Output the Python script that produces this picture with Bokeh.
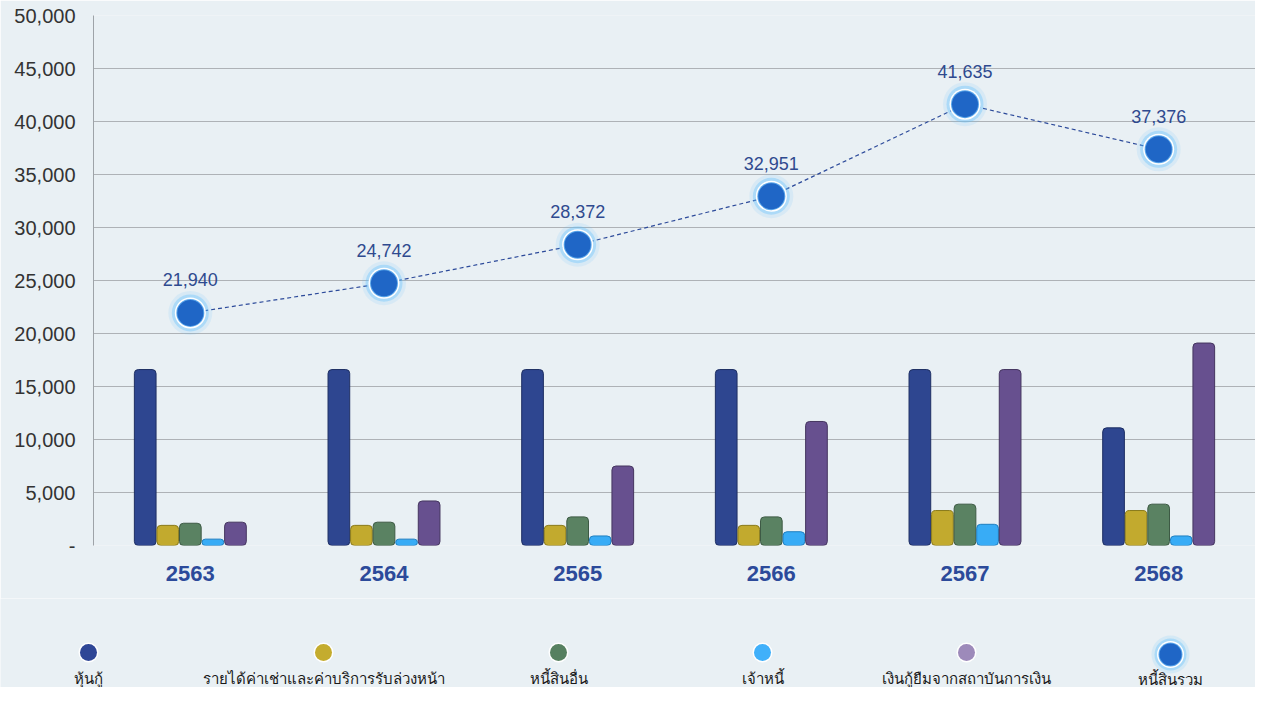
from bokeh.plotting import figure
from bokeh.layouts import column, row
from bokeh.models import ColumnDataSource, Range1d, FactorRange, NumeralTickFormatter, FixedTicker
from bokeh.transform import dodge
from bokeh.core.properties import value
from bokeh.embed import file_html
from bokeh.resources import INLINE

years = ["2563", "2564", "2565", "2566", "2567", "2568"]
debentures = [16600, 16600, 16600, 16600, 16600, 11100]
advance_rent = [1900, 1900, 1900, 1900, 3300, 3300]
other_liab = [2100, 2200, 2700, 2700, 3900, 3900]
creditors = [600, 600, 900, 1300, 2000, 900]
bank_loans = [2200, 4200, 7500, 11700, 16600, 19100]
total_liab = [21940, 24742, 28372, 32951, 41635, 37376]
total_labels = ["21,940", "24,742", "28,372", "32,951", "41,635", "37,376"]

series_names = ["หุ้นกู้", "รายได้ค่าเช่าและค่าบริการรับล่วงหน้า", "หนี้สินอื่น", "เจ้าหนี้",
                "เงินกู้ยืมจากสถาบันการเงิน", "หนี้สินรวม"]
bar_colors = ["#2e4690", "#c2aa2e", "#5a8262", "#38acf6", "#67508f"]
bar_edges = ["#1e2f63", "#8a7a1c", "#3d5a44", "#1f7fc0", "#45355f"]
legend_colors = ["#2e4696", "#c4ac2e", "#568060", "#40b0fa", "#9d8aba"]

BG = "#e9f0f4"
FONT = "Liberation Sans"

src = ColumnDataSource(dict(year=years, s0=debentures, s1=advance_rent, s2=other_liab,
                            s3=creditors, s4=bank_loans, total=total_liab, lab=total_labels))

W = 1255
p = figure(x_range=FactorRange(*years), y_range=Range1d(0, 50000),
           width=W, height=598, output_backend="svg", toolbar_location=None,
           min_border_left=93, min_border_right=0, min_border_top=15, min_border_bottom=53)
p.background_fill_color = BG
p.border_fill_color = BG
p.outline_line_color = None

pitch = 0.1165
offsets = [-2 * pitch, -pitch, 0, pitch, 2 * pitch]
for i, key in enumerate(["s0", "s1", "s2", "s3", "s4"]):
    p.vbar(x=dodge("year", offsets[i], range=p.x_range), top=key, bottom=0, width=0.112,
           source=src, fill_color=bar_colors[i], line_color=bar_edges[i], line_width=1,
           border_radius=4)

p.line(x="year", y="total", source=src, line_color="#2c4a9a", line_width=1.2, line_dash="4 3")
p.scatter(x="year", y="total", source=src, size=44, fill_color="#5cc0ff", fill_alpha=0.12, line_color=None)
p.scatter(x="year", y="total", source=src, size=37, fill_color="#5cc0ff", fill_alpha=0.35, line_color=None)
p.scatter(x="year", y="total", source=src, size=31, fill_color="#ffffff", line_color=None)
p.scatter(x="year", y="total", source=src, size=28, fill_color="#5aa6ea", line_color=None)
p.scatter(x="year", y="total", source=src, size=26, fill_color="#1f66c6", line_color=None)
p.text(x="year", y="total", text="lab", source=src, y_offset=-33, text_align="center",
       text_baseline="middle", text_font=value(FONT), text_font_size="18px", text_color="#2f4a8f")

ticks = list(range(0, 50001, 5000))
p.ygrid.ticker = FixedTicker(ticks=ticks)
p.ygrid.grid_line_color = "#aeb2b6"
p.ygrid.grid_line_width = 1
p.xgrid.grid_line_color = None

p.yaxis.ticker = FixedTicker(ticks=ticks)
p.yaxis.formatter = NumeralTickFormatter(format="0,0")
p.yaxis.major_label_overrides = {0: "-"}
p.yaxis.axis_line_color = "#9ea3a8"
p.yaxis.major_tick_line_color = None
p.yaxis.minor_tick_line_color = None
p.yaxis.major_label_standoff = 12
p.yaxis.major_label_text_font = FONT
p.yaxis.major_label_text_font_size = "20px"
p.yaxis.major_label_text_color = "#333333"

p.xaxis.axis_line_color = None
p.xaxis.major_tick_line_color = None
p.xaxis.minor_tick_line_color = None
p.xaxis.major_label_standoff = 14
p.xaxis.major_label_text_font = FONT
p.xaxis.major_label_text_font_size = "22px"
p.xaxis.major_label_text_font_style = "bold"
p.xaxis.major_label_text_color = "#2c4a9a"

# legend strip
LH = 89
lg = figure(x_range=Range1d(0, W), y_range=Range1d(LH, 0), width=W, height=LH,
            output_backend="svg", toolbar_location=None,
            min_border_left=0, min_border_right=0, min_border_top=0, min_border_bottom=0)
lg.background_fill_color = BG
lg.border_fill_color = BG
lg.outline_line_color = None
lg.axis.visible = False
lg.grid.visible = False

leg_x = [88, 323, 558, 762, 966, 1170]
lsrc = ColumnDataSource(dict(x=leg_x[:5], y=[54] * 5, c=legend_colors, name=series_names[:5],
                             ty=[79] * 5))
lg.scatter(x="x", y="y", source=lsrc, size=20, fill_color="#ffffff", line_color=None)
lg.scatter(x="x", y="y", source=lsrc, size=17, fill_color="c", line_color=None)
lg.text(x="x", y="ty", text="name", source=lsrc, text_align="center", text_baseline="middle",
        text_font=value("Noto Sans"), text_font_size="15px", text_color="#1a1a1a")

tsrc = ColumnDataSource(dict(x=[leg_x[5]], y=[56], name=[series_names[5]], ty=[80]))
lg.scatter(x="x", y="y", source=tsrc, size=38, fill_color="#5cc0ff", fill_alpha=0.15, line_color=None)
lg.scatter(x="x", y="y", source=tsrc, size=32, fill_color="#5cc0ff", fill_alpha=0.35, line_color=None)
lg.scatter(x="x", y="y", source=tsrc, size=27, fill_color="#ffffff", line_color=None)
lg.scatter(x="x", y="y", source=tsrc, size=24, fill_color="#5aa6ea", line_color=None)
lg.scatter(x="x", y="y", source=tsrc, size=22, fill_color="#1f66c6", line_color=None)
lg.text(x="x", y="ty", text="name", source=tsrc, text_align="center", text_baseline="middle",
        text_font=value("Noto Sans"), text_font_size="15px", text_color="#1a1a1a")

layout = column(p, row(lg), spacing=0)
open("out.html", "w").write(file_html(layout, INLINE))
